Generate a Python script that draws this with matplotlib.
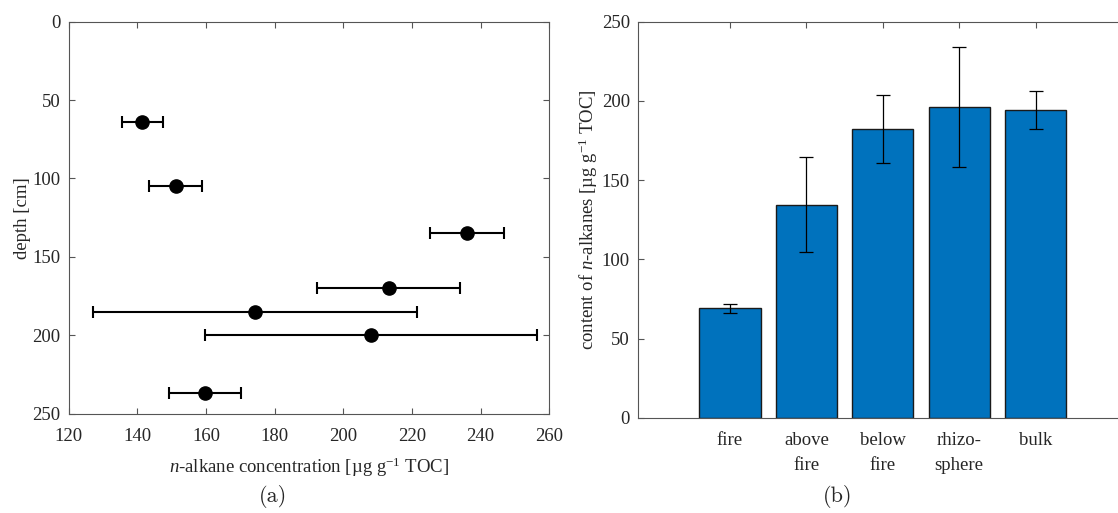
import matplotlib
matplotlib.use("Agg")
import matplotlib.pyplot as plt
import numpy as np

# ---- data: panel (a)
depth = [64, 105, 135, 170, 185, 200, 237]
conc = [141.5, 151.2, 236.0, 213.2, 174.2, 208.1, 159.6]
conc_err = [6.0, 7.7, 10.8, 20.8, 47.2, 48.4, 10.5]

# ---- data: panel (b)
categories = ["fire", "above\nfire", "below\nfire", "rhizo-\nsphere", "bulk"]
content = [69.1, 134.6, 182.2, 196.2, 194.3]
content_err = [2.7, 30.0, 21.4, 38.0, 12.2]

plt.rcParams['font.family'] = ['Liberation Serif', 'DejaVu Serif']
plt.rcParams['mathtext.fontset'] = 'custom'
plt.rcParams['mathtext.rm'] = 'Liberation Serif'
plt.rcParams['mathtext.it'] = 'Liberation Serif:italic'
plt.rcParams['font.size'] = 13

txt = '#262626'
fs = 13.5

fig = plt.figure(figsize=(11.18, 5.13), dpi=100)
ax1 = fig.add_axes([0.0614, 0.1936, 0.4299, 0.7641])
ax2 = fig.add_axes([0.5709, 0.1852, 0.4374, 0.7725])

for ax in (ax1, ax2):
    for s in ax.spines.values():
        s.set_color('#555555')
        s.set_linewidth(0.8)
    ax.tick_params(direction='in', length=4, width=0.8, colors='#555555',
                   labelcolor=txt, labelsize=fs, top=True, right=True, pad=6)
    ax.tick_params(axis='x', pad=10)

# panel (a)
ax1.errorbar(conc, depth, xerr=conc_err, fmt='o', color='black', ms=9.5,
             elinewidth=1.5, capsize=4, capthick=1.5)
ax1.set_xlim(120, 260)
ax1.set_ylim(250, 0)
ax1.set_xticks(np.arange(120, 261, 20))
ax1.set_yticks(np.arange(0, 251, 50))
ax1.set_xlabel(r'$n$-alkane concentration [µg g$^{\mathrm{-1}}$ TOC]', color=txt, fontsize=fs, labelpad=8)
ax1.set_ylabel('depth [cm]', color=txt, fontsize=fs, labelpad=1)

# panel (b)
ax2.set_axisbelow(True)
xpos = np.arange(1, len(categories) + 1)
ax2.bar(xpos, content, width=0.8, color='#0072BD', edgecolor='#1a1a1a', linewidth=1.0, zorder=2)
ax2.errorbar(xpos, content, yerr=content_err, fmt='none', ecolor='black',
             elinewidth=0.9, capsize=5, capthick=0.9, zorder=3)
ax2.set_xlim(-0.2, 6.2)
ax2.set_ylim(0, 250)
ax2.set_yticks(np.arange(0, 251, 50))
ax2.set_xticks(xpos)
ax2.set_xticklabels(categories, linespacing=1.6, va='top')
ax2.set_ylabel(r'content of $n$-alkanes [µg g$^{\mathrm{-1}}$ TOC]', color=txt, fontsize=fs, labelpad=1)

fig.text(273 / 1118, 1 - 497 / 513, '(a)', fontfamily='cmr10', fontsize=16, color=txt,
         ha='center', va='center')
fig.text(838 / 1118, 1 - 497 / 513, '(b)', fontfamily='cmr10', fontsize=16, color=txt,
         ha='center', va='center')

fig.savefig('out.png', dpi=100, facecolor='white')
